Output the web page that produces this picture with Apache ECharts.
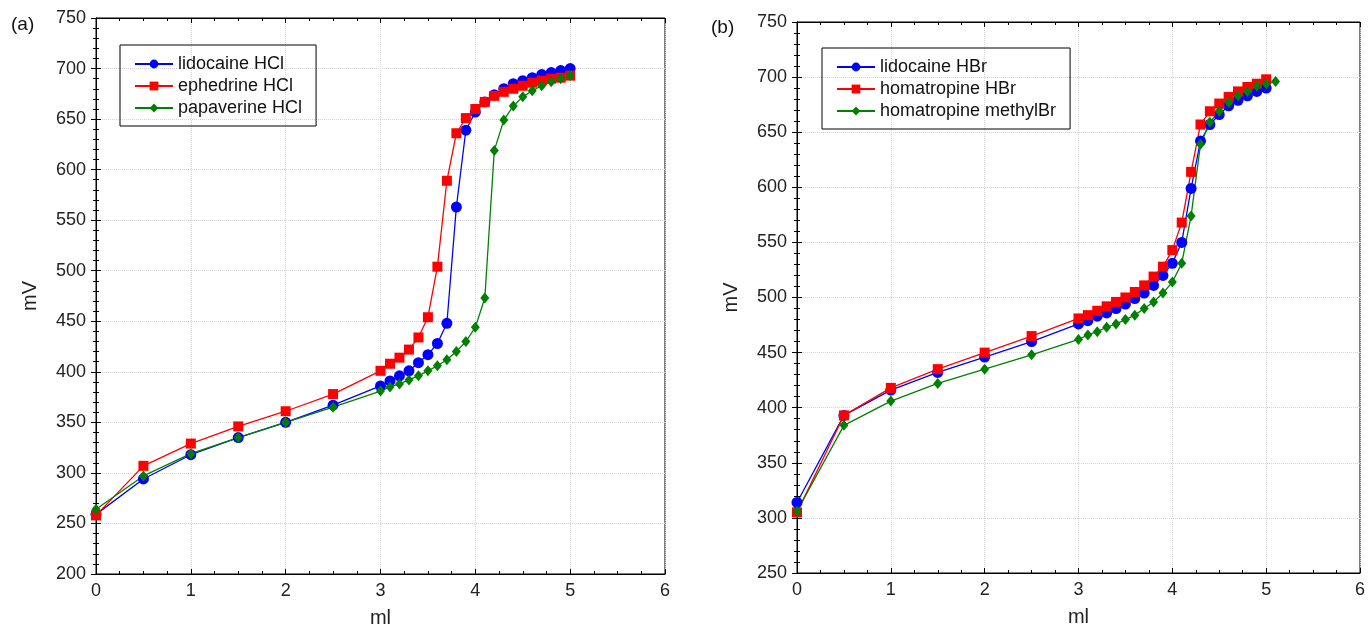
<!DOCTYPE html>
<html>
<head>
<meta charset="utf-8">
<script src="https://cdn.jsdelivr.net/npm/echarts@6/dist/echarts.min.js"></script>
<style>
  html, body { margin: 0; padding: 0; background: #fff; }
  #main { width: 1370px; height: 633px; }
</style>
</head>
<body>
<div id="main"></div>
<script>
// x values (ml) for the titrations
var mlA = [0, 0.5, 1, 1.5, 2, 2.5, 3, 3.1, 3.2, 3.3, 3.4, 3.5, 3.6, 3.7, 3.8, 3.9, 4, 4.1, 4.2, 4.3, 4.4, 4.5, 4.6, 4.7, 4.8, 4.9, 5]
var mlB = [0, 0.5, 1, 1.5, 2, 2.5, 3, 3.1, 3.2, 3.3, 3.4, 3.5, 3.6, 3.7, 3.8, 3.9, 4, 4.1, 4.2, 4.3, 4.4, 4.5, 4.6, 4.7, 4.8, 4.9, 5]
var mlBGreen = [0, 0.5, 1, 1.5, 2, 2.5, 3, 3.1, 3.2, 3.3, 3.4, 3.5, 3.6, 3.7, 3.8, 3.9, 4, 4.1, 4.2, 4.3, 4.4, 4.5, 4.6, 4.7, 4.8, 4.9, 5, 5.1]

// (a) mV
var lidocaineHCl = [259, 294, 318, 335, 350, 367, 386, 391, 396, 401, 409, 417, 428, 448, 563, 639, 657, 667, 674, 680, 685, 688, 691, 694, 696, 698, 700]
var ephedrineHCl = [258, 307, 329, 346, 361, 378, 401, 408, 414, 422, 434, 454, 504, 589, 636, 651, 660, 667, 673, 677, 680, 683, 686, 688, 690, 691, 693]
var papaverineHCl = [264, 297, 319, 335, 350, 365, 381, 385, 388, 392, 396, 401, 406, 412, 420, 430, 444, 473, 619, 649, 663, 672, 678, 683, 687, 690, 693]

// (b) mV
var lidocaineHBr = [314, 393, 416, 432, 446, 460, 476, 479, 483, 486, 490, 494, 499, 504, 511, 520, 531, 550, 599, 642, 657, 666, 674, 679, 683, 687, 690]
var homatropineHBr = [305, 393, 418, 435, 450, 465, 481, 484, 488, 492, 496, 500, 505, 511, 519, 528, 543, 568, 614, 657, 669, 676, 682, 687, 691, 694, 698]
var homatropineMethylBr = [306, 384, 406, 422, 435, 448, 462, 466, 469, 473, 476, 480, 484, 490, 496, 504, 514, 531, 574, 639, 659, 669, 677, 683, 687, 692, 694, 696]

var pairs = (xs, ys) => xs.map((x, i) => [x, ys[i]])

var font = "'Liberation Sans', Arial, sans-serif"
var blue = '#0000ff'
var red = '#ff0000'
var green = '#008000'

var element = document.querySelector('#main')
var myChart = echarts.init(element)

var xAxisMain = (gi) => ({
    type: 'value', gridIndex: gi, min: 0, max: 6, interval: 1,
    name: 'ml', nameLocation: 'middle', nameGap: 34,
    nameTextStyle: { fontFamily: font, fontSize: 20, color: '#222' },
    axisLine: { lineStyle: { color: '#000' } },
    axisTick: { inside: true, length: 5, lineStyle: { color: '#000' } },
    minorTick: { show: true, splitNumber: 4, length: 3, lineStyle: { color: '#000' } },
    axisLabel: { fontFamily: font, fontSize: 18, color: '#222', margin: 8 },
    splitLine: { show: true, lineStyle: { color: '#d4d4d4', type: 'dotted' } }
})
var xAxisTop = (gi) => ({
    type: 'value', gridIndex: gi, min: 0, max: 6, interval: 1, position: 'top',
    axisLine: { lineStyle: { color: '#000' } },
    axisTick: { inside: true, length: 5, lineStyle: { color: '#000' } },
    minorTick: { show: true, splitNumber: 4, length: 3, lineStyle: { color: '#000' } },
    axisLabel: { show: false }, splitLine: { show: false }
})
var yAxisMain = (gi, min, max) => ({
    type: 'value', gridIndex: gi, min: min, max: max, interval: 50,
    name: 'mV', nameLocation: 'middle', nameGap: 56,
    nameTextStyle: { fontFamily: font, fontSize: 20, color: '#222' },
    axisLine: { show: true, lineStyle: { color: '#000' } },
    axisTick: { show: true, inside: true, length: 5, lineStyle: { color: '#000' } },
    minorTick: { show: true, splitNumber: 5, length: 3, lineStyle: { color: '#000' } },
    axisLabel: { fontFamily: font, fontSize: 18, color: '#222', margin: 10 },
    splitLine: { show: true, lineStyle: { color: '#d4d4d4', type: 'dotted' } }
})
var yAxisRight = (gi, min, max) => ({
    type: 'value', gridIndex: gi, min: min, max: max, interval: 50, position: 'right',
    axisLine: { show: true, lineStyle: { color: '#000' } },
    axisTick: { show: true, inside: true, length: 5, lineStyle: { color: '#000' } },
    minorTick: { show: true, splitNumber: 5, length: 3, lineStyle: { color: '#000' } },
    axisLabel: { show: false }, splitLine: { show: false }
})

var lineSeries = (name, xi, yi, data, color, symbol, size) => ({
    name: name, type: 'line', xAxisIndex: xi, yAxisIndex: yi,
    data: data, symbol: symbol, symbolSize: size, showSymbol: true,
    itemStyle: { color: color },
    lineStyle: { color: color, width: 1.3 },
    emphasis: { disabled: true },
    animation: false
})

var legendBox = (left, top, names) => ({
    data: names, orient: 'vertical', left: left, top: top,
    borderColor: '#000', borderWidth: 1, padding: [10, 14, 9, 14],
    itemWidth: 38, itemHeight: 11, itemGap: 4,
    textStyle: { fontFamily: font, fontSize: 18, color: '#111' }
})

var option = {
    backgroundColor: '#fff',
    animation: false,
    title: [
        { text: '(a)', left: 6, top: 10, textStyle: { fontFamily: font, fontSize: 19, fontWeight: 'normal', color: '#111' } },
        { text: '(b)', left: 706, top: 13, textStyle: { fontFamily: font, fontSize: 19, fontWeight: 'normal', color: '#111' } }
    ],
    grid: [
        { left: 96, top: 18, width: 569, height: 558, show: true, borderColor: '#000', borderWidth: 1 },
        { left: 797, top: 22, width: 563, height: 551, show: true, borderColor: '#000', borderWidth: 1 }
    ],
    legend: [
        legendBox(120, 45, ['lidocaine HCl', 'ephedrine HCl', 'papaverine HCl']),
        legendBox(822, 48, ['lidocaine HBr', 'homatropine HBr', 'homatropine methylBr'])
    ],
    xAxis: [xAxisMain(0), xAxisTop(0), xAxisMain(1), xAxisTop(1)],
    yAxis: [yAxisMain(0, 200, 750), yAxisRight(0, 200, 750), yAxisMain(1, 250, 750), yAxisRight(1, 250, 750)],
    series: [
        lineSeries('lidocaine HCl', 0, 0, pairs(mlA, lidocaineHCl), blue, 'circle', 11),
        lineSeries('ephedrine HCl', 0, 0, pairs(mlA, ephedrineHCl), red, 'rect', 10),
        lineSeries('papaverine HCl', 0, 0, pairs(mlA, papaverineHCl), green, 'diamond', [9, 11]),
        lineSeries('lidocaine HBr', 2, 2, pairs(mlB, lidocaineHBr), blue, 'circle', 11),
        lineSeries('homatropine HBr', 2, 2, pairs(mlB, homatropineHBr), red, 'rect', 10),
        lineSeries('homatropine methylBr', 2, 2, pairs(mlBGreen, homatropineMethylBr), green, 'diamond', [9, 11])
    ]
}

myChart.setOption(option)
</script>
</body>
</html>
